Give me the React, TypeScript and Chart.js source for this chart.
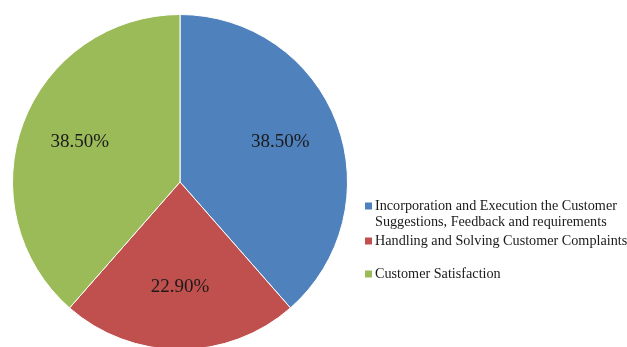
import React, { useEffect, useRef } from "react";
import { Chart, registerables } from "chart.js";

Chart.register(...registerables);

const categories = [
  "Incorporation and Execution the Customer Suggestions, Feedback and requirements",
  "Handling and Solving Customer Complaints",
  "Customer Satisfaction",
];
const values = [38.5, 22.9, 38.5];
const valueLabels = ["38.50%", "22.90%", "38.50%"];
const colors = ["#4F81BD", "#C0504D", "#9BBB59"];

const W = 627;
const H = 370;

function wrap(ctx: CanvasRenderingContext2D, text: string, maxW: number): string[] {
  const words = text.split(" ");
  const lines: string[] = [];
  let cur = "";
  for (const w of words) {
    const t = cur ? cur + " " + w : w;
    if (ctx.measureText(t).width > maxW && cur) {
      lines.push(cur);
      cur = w;
    } else cur = t;
  }
  if (cur) lines.push(cur);
  return lines;
}

const labelPlugin = {
  id: "sliceLabels",
  afterDatasetsDraw(chart: any) {
    const ctx = chart.ctx;
    const meta = chart.getDatasetMeta(0);
    ctx.save();
    ctx.font = "19px 'Liberation Serif', 'Times New Roman', serif";
    ctx.fillStyle = "#1a1a1a";
    ctx.textAlign = "center";
    ctx.textBaseline = "middle";
    meta.data.forEach((arc: any, i: number) => {
      const { x, y, startAngle, endAngle, outerRadius } = arc.getProps(
        ["x", "y", "startAngle", "endAngle", "outerRadius"],
        true
      );
      const mid = (startAngle + endAngle) / 2;
      const r = outerRadius * 0.64;
      ctx.fillText(valueLabels[i], x + Math.cos(mid) * r, y + Math.sin(mid) * r - 2);
    });
    ctx.restore();
  },
};

const legendPlugin = {
  id: "sideLegend",
  afterDraw(chart: any) {
    const ctx = chart.ctx;
    ctx.save();
    ctx.font = "14.2px 'Liberation Serif', 'Times New Roman', serif";
    ctx.textBaseline = "middle";
    ctx.textAlign = "left";
    const boxX = 365;
    const textX = 375;
    const itemTops = [206, 241, 274];
    const lineH = 16.5;
    categories.forEach((c, i) => {
      const lines = wrap(ctx, c, 258);
      const y0 = itemTops[i];
      ctx.fillStyle = colors[i];
      ctx.fillRect(boxX, y0 - 3.5, 7, 7);
      ctx.fillStyle = "#1a1a1a";
      lines.forEach((ln, j) => ctx.fillText(ln, textX, y0 + j * lineH));
    });
    ctx.restore();
  },
};

export default function App() {
  const ref = useRef<HTMLCanvasElement | null>(null);
  useEffect(() => {
    if (!ref.current) return;
    const chart = new Chart(ref.current, {
      type: "pie",
      data: {
        labels: categories,
        datasets: [
          {
            data: values,
            backgroundColor: colors,
            borderColor: "#ffffff",
            borderWidth: 1,
          },
        ],
      },
      options: {
        responsive: false,
        animation: false,
        devicePixelRatio: 1,
        layout: { padding: { left: 12, top: 14, right: W - 348, bottom: H - 350 } },
        plugins: {
          legend: { display: false },
          tooltip: { enabled: false },
        },
      },
      plugins: [labelPlugin, legendPlugin],
    });
    return () => chart.destroy();
  }, []);
  return (
    <div
      style={{
        position: "absolute",
        left: 0,
        top: 0,
        width: W,
        height: 347,
        overflow: "hidden",
        background: "#fff",
      }}
    >
      <canvas ref={ref} width={W} height={H} style={{ display: "block", width: W, height: H }} />
    </div>
  );
}
